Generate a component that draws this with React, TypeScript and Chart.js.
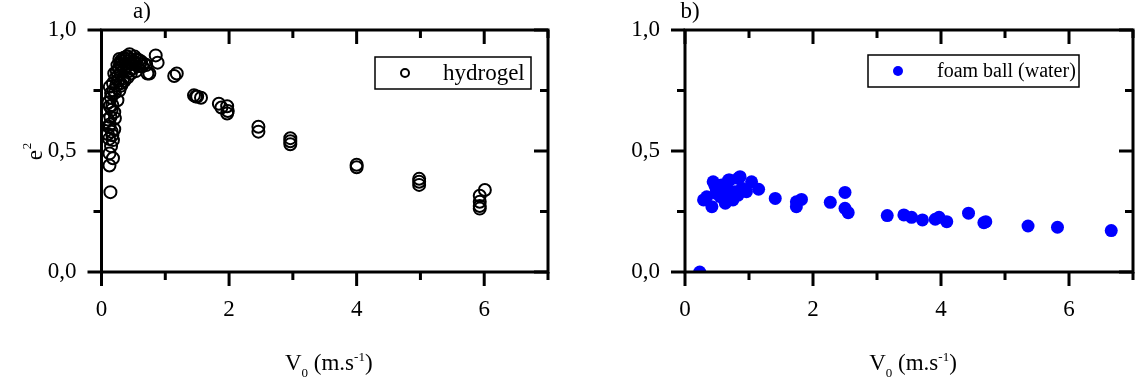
import React, { useEffect, useRef } from 'react';
import { Chart, registerables } from 'chart.js';

Chart.register(...registerables);

const FONT = "'Liberation Serif', 'Times New Roman', serif";

// ---- Data (a) hydrogel ----
const hydrogelX = [
  0.14, 0.125, 0.18, 0.125, 0.15, 0.18, 0.17, 0.2, 0.13, 0.21, 0.2, 0.13, 0.1, 0.15, 0.25, 0.15, 0.13, 0.18,
  0.28, 0.31, 0.36, 0.41, 0.46, 0.54, 0.2, 0.25, 0.31, 0.39, 0.44, 0.52, 0.59, 0.67, 0.72, 0.7, 0.85, 0.88,
  0.22, 0.24, 0.26, 0.27, 0.29, 0.3, 0.32, 0.33, 0.34, 0.35, 0.37, 0.38, 0.4, 0.42, 0.43, 0.45, 0.47, 0.48,
  0.5, 0.53, 0.55, 0.57, 0.6, 0.62, 0.64, 0.28, 0.35, 0.41, 0.23, 0.19, 0.17, 0.16, 0.14, 0.12, 0.16, 0.21,
  0.26, 0.3, 0.12, 0.11, 0.1, 0.1,
  0.75, 1.14, 1.18, 1.45, 1.48, 1.5, 1.56, 1.84, 1.88, 1.97, 1.98, 1.97, 2.46, 2.46, 2.96, 2.96, 2.96,
  4.0, 4.0, 4.98, 4.98, 4.98, 5.93, 5.93, 5.93, 5.93, 6.01,
];
const hydrogelY = [
  0.33, 0.44, 0.47, 0.49, 0.52, 0.545, 0.565, 0.59, 0.61, 0.635, 0.66, 0.685, 0.7, 0.72, 0.71, 0.74, 0.765, 0.78,
  0.75, 0.77, 0.79, 0.805, 0.82, 0.83, 0.82, 0.855, 0.875, 0.89, 0.9, 0.89, 0.875, 0.86, 0.82, 0.855, 0.895, 0.865,
  0.8, 0.83, 0.81, 0.84, 0.86, 0.82, 0.85, 0.87, 0.8, 0.84, 0.86, 0.88, 0.85, 0.87, 0.83, 0.88, 0.86, 0.84,
  0.87, 0.86, 0.88, 0.85, 0.86, 0.87, 0.85, 0.88, 0.885, 0.89, 0.77, 0.75, 0.69, 0.67, 0.64, 0.6, 0.58, 0.74,
  0.79, 0.78, 0.55, 0.7, 0.63, 0.57,
  0.82, 0.81, 0.82, 0.73, 0.725, 0.725, 0.72, 0.695, 0.68, 0.685, 0.665, 0.655, 0.6, 0.58, 0.553, 0.54, 0.528,
  0.443, 0.433, 0.385, 0.373, 0.36, 0.315, 0.29, 0.273, 0.262, 0.339,
];

// ---- Data (b) foam ball (water) ----
const foamX = [
  0.23, 0.29, 0.34, 0.42, 0.44, 0.47, 0.49, 0.49, 0.55, 0.57, 0.57, 0.63, 0.65, 0.68, 0.7, 0.7, 0.75, 0.78,
  0.83, 0.83, 0.86, 0.89, 0.96, 1.04, 1.15, 1.41, 1.74, 1.74, 1.82, 2.27, 2.5, 2.5, 2.55, 3.16, 3.42, 3.54,
  3.71, 3.91, 3.97, 4.09, 4.43, 4.67, 4.7, 5.36, 5.82, 6.66,
];
const foamY = [
  0.0, 0.298, 0.311, 0.27, 0.373, 0.355, 0.339, 0.325, 0.311, 0.36, 0.339, 0.284, 0.304, 0.38, 0.332, 0.38, 0.298, 0.332,
  0.318, 0.387, 0.394, 0.346, 0.332, 0.373, 0.342, 0.304, 0.29, 0.27, 0.3, 0.288, 0.329, 0.263, 0.245, 0.233, 0.236, 0.226,
  0.215, 0.218, 0.226, 0.208, 0.243, 0.204, 0.208, 0.19, 0.185, 0.171,
];

const xLabeledTicks = [0, 2, 4, 6];
const yLabeledTicks = [0, 0.5, 1];
const X_MIN = 0, X_MAX = 7, X_STEP = 1;
const Y_MIN = 0, Y_MAX = 1, Y_STEP = 0.25;

const isLabeled = (v: number, list: number[]) => list.some((t) => Math.abs(t - v) < 1e-9);

const decorPlugin = {
  id: 'decor',
  afterDatasetsDraw(chart: any) {
    const ctx = chart.ctx;
    const { left, right, top, bottom } = chart.chartArea;
    const xs = chart.scales.x;
    const ys = chart.scales.y;
    ctx.save();
    ctx.strokeStyle = '#000';
    ctx.lineWidth = 3;
    ctx.lineCap = 'butt';
    ctx.strokeRect(left, top, right - left, bottom - top);
    const MAJ = 14, MIN = 8;
    ctx.beginPath();
    xs.ticks.forEach((t: any) => {
      const p = xs.getPixelForValue(t.value);
      const len = isLabeled(t.value, xLabeledTicks) ? MAJ : MIN;
      ctx.moveTo(p, bottom); ctx.lineTo(p, bottom + len);
      ctx.moveTo(p, top); ctx.lineTo(p, top + len);
    });
    ys.ticks.forEach((t: any) => {
      const p = ys.getPixelForValue(t.value);
      const len = isLabeled(t.value, yLabeledTicks) ? MAJ : MIN;
      ctx.moveTo(left, p); ctx.lineTo(left - len, p);
      ctx.moveTo(right, p); ctx.lineTo(right - len, p);
    });
    ctx.stroke();
    ctx.restore();
  },
  afterDraw(chart: any, _args: any, opts: any) {
    const ctx = chart.ctx;
    const { left, right } = chart.chartArea;
    ctx.save();
    ctx.fillStyle = '#000';
    // panel label
    ctx.font = `23px ${FONT}`;
    ctx.textAlign = 'center';
    ctx.textBaseline = 'middle';
    ctx.fillText(opts.panel, opts.panelX, opts.panelY);

    // x title with subscript / superscript
    const segs = [
      { t: 'V', s: 23, dy: 0 },
      { t: '0', s: 13, dy: 7 },
      { t: ' (m.s', s: 23, dy: 0 },
      { t: '-1', s: 13, dy: -9 },
      { t: ')', s: 23, dy: 0 },
    ];
    ctx.textAlign = 'left';
    ctx.textBaseline = 'alphabetic';
    let total = 0;
    segs.forEach((g) => { ctx.font = `${g.s}px ${FONT}`; total += ctx.measureText(g.t).width; });
    let cx = (left + right) / 2 + opts.titleDx - total / 2;
    const by = opts.titleBaseline;
    segs.forEach((g) => {
      ctx.font = `${g.s}px ${FONT}`;
      ctx.fillText(g.t, cx, by + g.dy);
      cx += ctx.measureText(g.t).width;
    });

    // y title e^2
    if (opts.yTitle) {
      ctx.save();
      ctx.translate(opts.yTitleX, opts.yTitleY);
      ctx.rotate(-Math.PI / 2);
      ctx.font = `23px ${FONT}`;
      const we = ctx.measureText('e').width;
      ctx.font = `13px ${FONT}`;
      const w2 = ctx.measureText('2').width;
      const u0 = -(we + w2) / 2;
      ctx.font = `23px ${FONT}`;
      ctx.fillText('e', u0, 0);
      ctx.font = `13px ${FONT}`;
      ctx.fillText('2', u0 + we + 1, -11);
      ctx.restore();
    }

    // legend
    const lg = opts.legend;
    const ds = chart.data.datasets[0];
    ctx.lineWidth = 1.5;
    ctx.strokeStyle = '#000';
    ctx.strokeRect(lg.x, lg.y, lg.w, lg.h);
    const my = lg.y + lg.h / 2;
    ctx.beginPath();
    ctx.arc(lg.markerX, my, lg.markerR, 0, Math.PI * 2);
    if (ds.pointBackgroundColor && ds.pointBackgroundColor !== 'rgba(0,0,0,0)') {
      ctx.fillStyle = ds.pointBackgroundColor;
      ctx.fill();
    }
    if (ds.pointBorderWidth > 0) {
      ctx.lineWidth = ds.pointBorderWidth;
      ctx.strokeStyle = ds.pointBorderColor;
      ctx.stroke();
    }
    ctx.fillStyle = '#000';
    ctx.font = `${lg.fontSize}px ${FONT}`;
    ctx.textAlign = 'left';
    ctx.textBaseline = 'middle';
    ctx.fillText(ds.label, lg.textX, my + 1);
    ctx.restore();
  },
};

function makeConfig(
  label: string,
  xs: number[],
  ys: number[],
  style: any,
  yAxisWidth: number,
  padRight: number,
  decor: any,
): any {
  return {
    type: 'scatter',
    data: {
      datasets: [
        {
          label,
          data: xs.map((x, i) => ({ x, y: ys[i] })),
          clip: 0,
          ...style,
        },
      ],
    },
    options: {
      animation: false,
      responsive: false,
      maintainAspectRatio: false,
      layout: { autoPadding: false, padding: { left: 0, right: padRight, top: 30, bottom: 0 } },
      plugins: {
        legend: { display: false },
        tooltip: { enabled: false },
        decor,
      },
      scales: {
        x: {
          type: 'linear',
          min: X_MIN,
          max: X_MAX,
          afterFit: (s: any) => { s.height = 118; },
          grid: { display: false, drawTicks: true, tickLength: 24 },
          border: { display: false },
          ticks: {
            stepSize: X_STEP,
            autoSkip: false,
            maxRotation: 0,
            padding: 0,
            color: '#000',
            font: { family: FONT, size: 23 },
            callback: (v: number) => (isLabeled(v, xLabeledTicks) ? String(v) : ''),
          },
        },
        y: {
          type: 'linear',
          min: Y_MIN,
          max: Y_MAX,
          afterFit: (s: any) => { s.width = yAxisWidth; },
          grid: { display: false, drawTicks: true, tickLength: 25 },
          border: { display: false },
          ticks: {
            stepSize: Y_STEP,
            autoSkip: false,
            padding: 0,
            color: '#000',
            font: { family: FONT, size: 23 },
            callback: (v: number) => (isLabeled(v, yLabeledTicks) ? v.toFixed(1).replace('.', ',') : ''),
          },
        },
      },
    },
    plugins: [decorPlugin],
  };
}

export default function App() {
  const leftRef = useRef<HTMLCanvasElement>(null);
  const rightRef = useRef<HTMLCanvasElement>(null);

  useEffect(() => {
    const left = new Chart(
      leftRef.current as HTMLCanvasElement,
      makeConfig(
        'hydrogel',
        hydrogelX,
        hydrogelY,
        {
          pointRadius: 6,
          pointBorderWidth: 2,
          pointBorderColor: '#000',
          pointBackgroundColor: 'rgba(0,0,0,0)',
        },
        101.5,
        20,
        {
          panel: 'a)', panelX: 142, panelY: 12,
          titleDx: 4, titleBaseline: 370,
          yTitle: true, yTitleX: 42, yTitleY: 152,
          legend: { x: 375, y: 57, w: 156, h: 32, markerX: 405, markerR: 4, textX: 443, fontSize: 23 },
        },
      ),
    );
    const right = new Chart(
      rightRef.current as HTMLCanvasElement,
      makeConfig(
        'foam ball (water)',
        foamX,
        foamY,
        {
          pointRadius: 6.5,
          pointBorderWidth: 0,
          pointBorderColor: '#0000ff',
          pointBackgroundColor: '#0000ff',
        },
        117,
        4,
        {
          panel: 'b)', panelX: 122, panelY: 12,
          titleDx: 4, titleBaseline: 370,
          yTitle: false,
          legend: { x: 300, y: 55, w: 211, h: 32, markerX: 330, markerR: 5, textX: 369, fontSize: 20 },
        },
      ),
    );
    return () => {
      left.destroy();
      right.destroy();
    };
  }, []);

  return (
    <div style={{ position: 'absolute', left: 0, top: 0, width: 1137, height: 390, background: '#fff' }}>
      <canvas ref={leftRef} width={568} height={390} style={{ position: 'absolute', left: 0, top: 0, width: 568, height: 390 }} />
      <canvas ref={rightRef} width={569} height={390} style={{ position: 'absolute', left: 568, top: 0, width: 569, height: 390 }} />
    </div>
  );
}
